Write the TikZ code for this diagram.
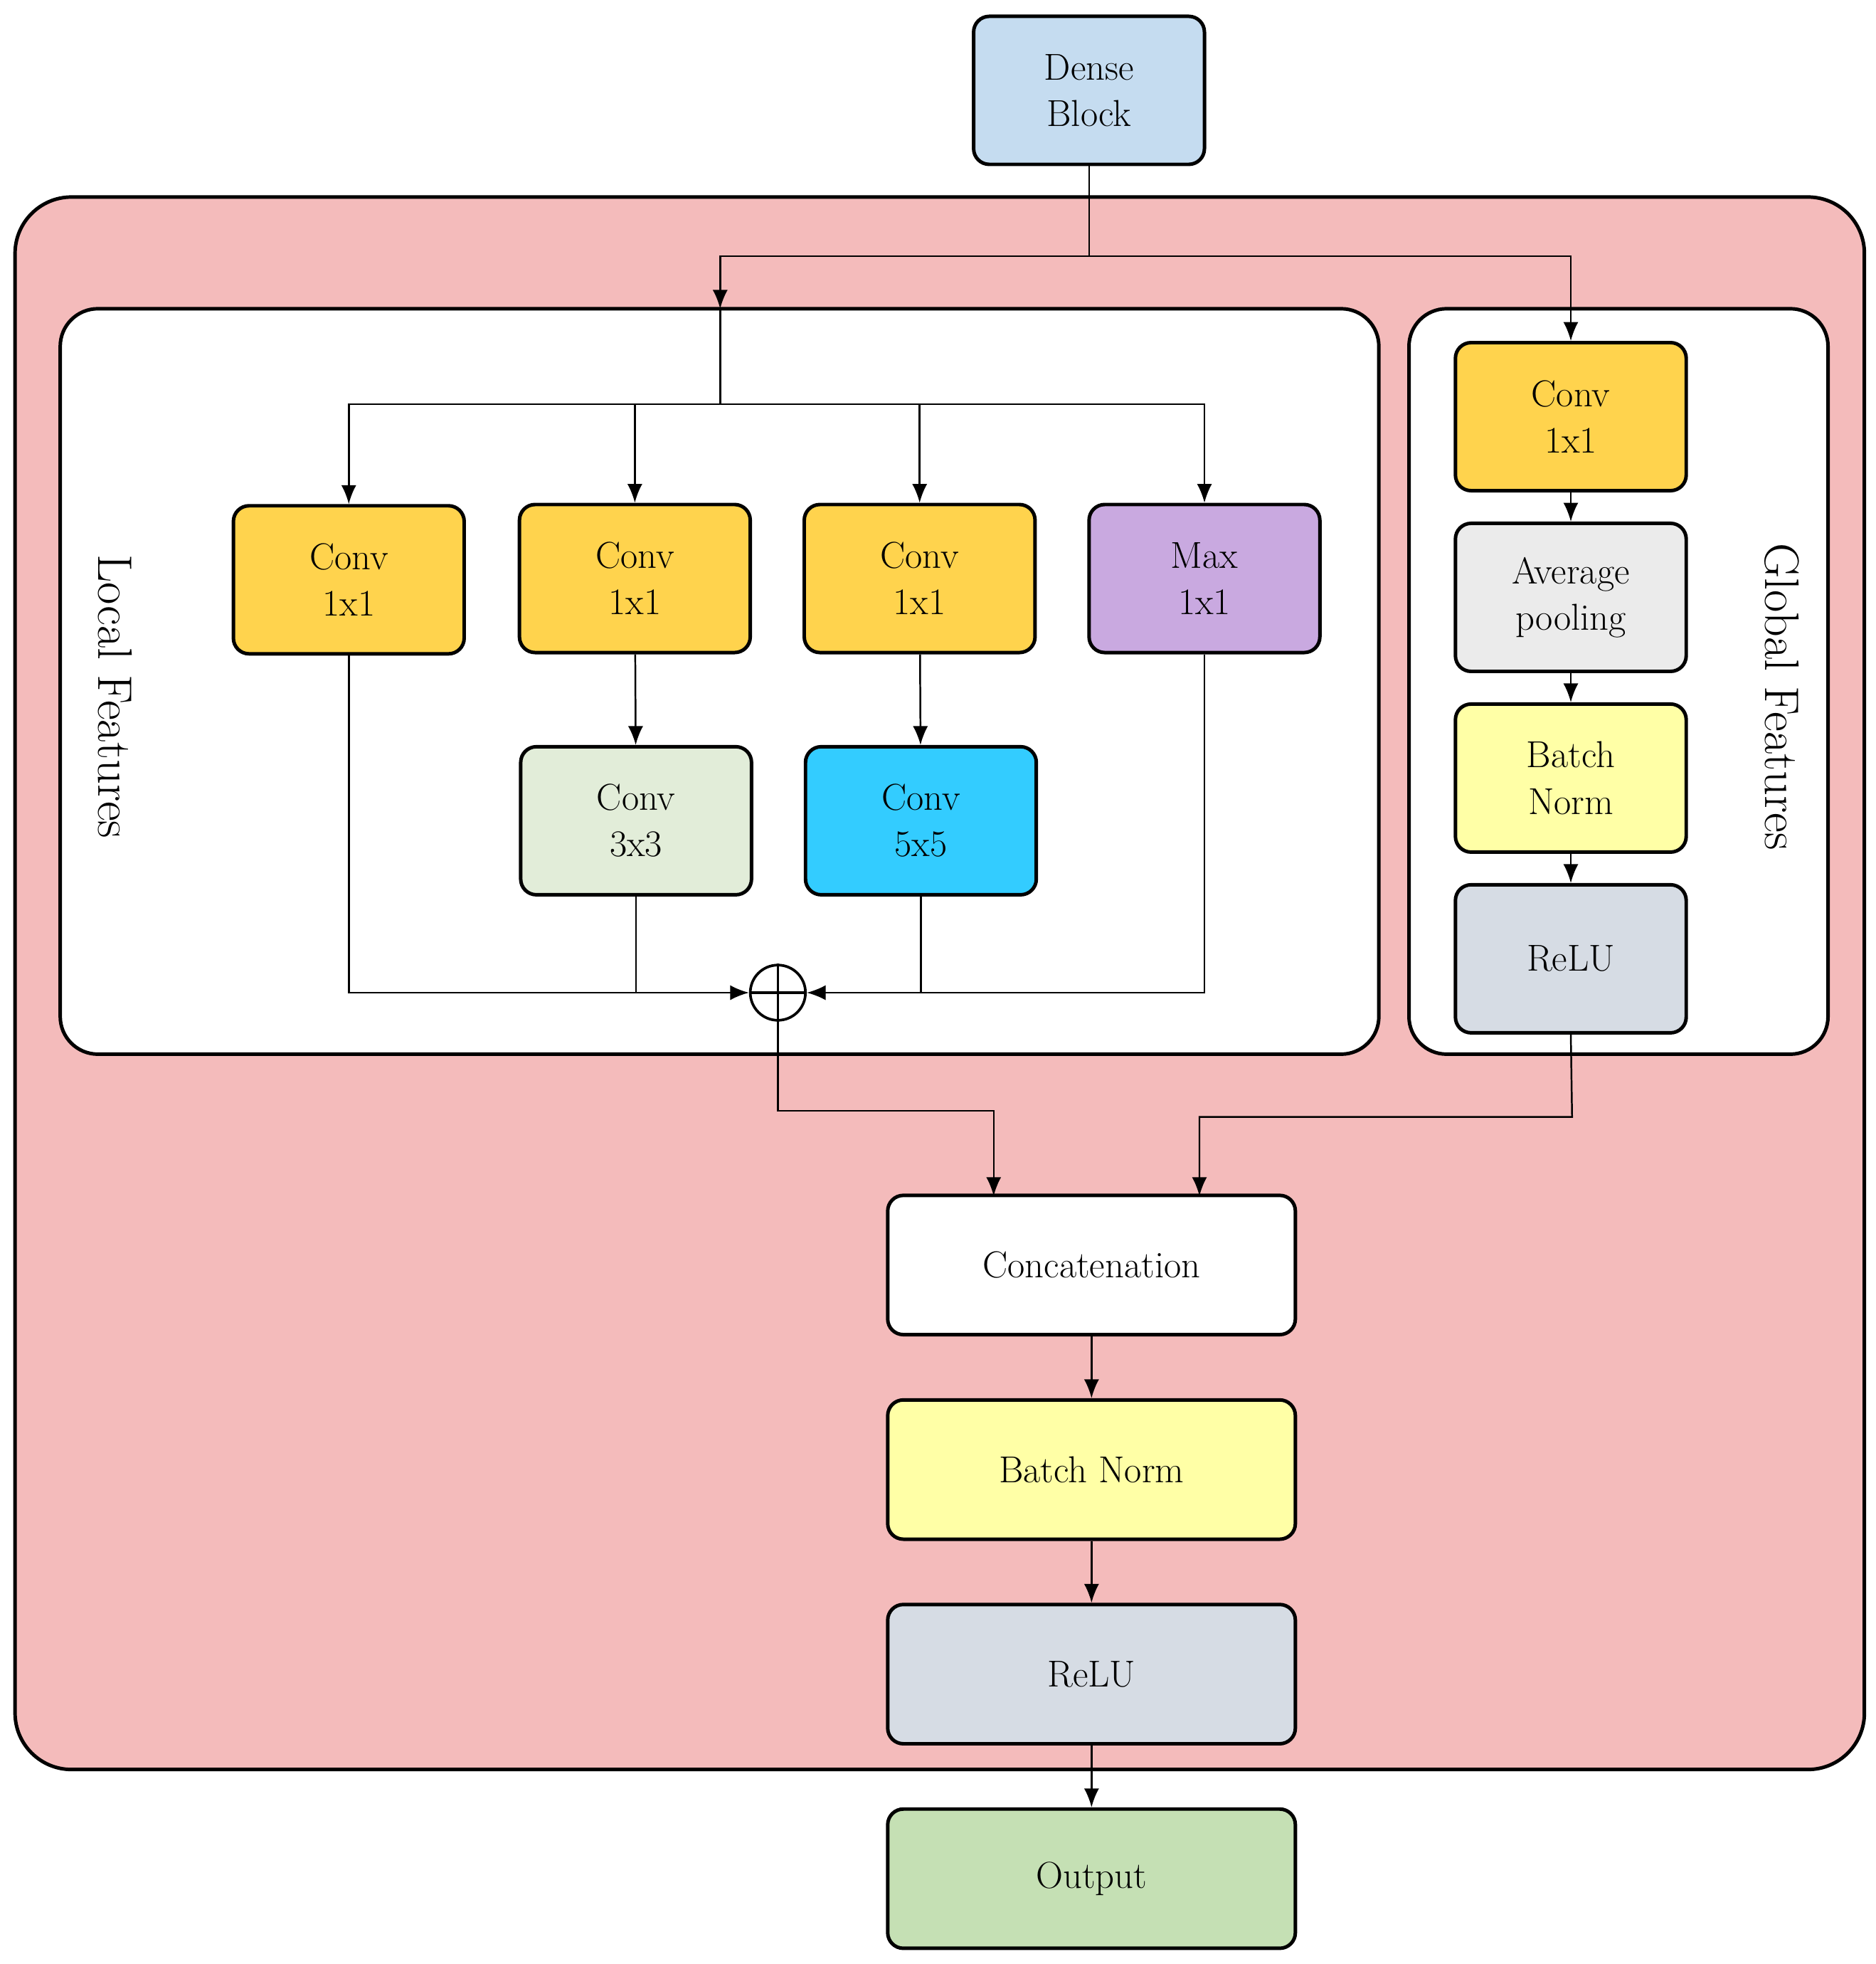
\documentclass[tikz,border=0pt]{standalone}
\usetikzlibrary{arrows.meta,positioning}
\definecolor{pinkbg}{HTML}{F4BBBB}
\definecolor{denseblue}{HTML}{C5DCF0}
\definecolor{convyel}{HTML}{FFD34D}
\definecolor{maxpurp}{HTML}{C9A9E0}
\definecolor{lgreen}{HTML}{E2EDD9}
\definecolor{cyanc}{HTML}{33CCFF}
\definecolor{avggray}{HTML}{EBEBEB}
\definecolor{bnyel}{HTML}{FFFFA6}
\definecolor{relublue}{HTML}{D6DCE4}
\definecolor{outgreen}{HTML}{C5E0B4}
\begin{document}
\begin{tikzpicture}[x=0.02cm,y=-0.02cm,
  every node/.style={font=\fontsize{17}{21}\selectfont},
  block/.style={draw=black,line width=1.6pt,rounded corners=0.25cm,align=center,
    minimum width=3.68cm,minimum height=2.36cm,inner sep=2pt},
  wideblock/.style={block,minimum width=6.5cm,minimum height=2.22cm},
  panel/.style={draw=black,line width=1.6pt,rounded corners=0.6cm},
  link/.style={line width=0.8pt,-{Latex[length=3mm,width=2.4mm]}},
  line/.style={line width=0.8pt}]
\useasboundingbox (0,0) rectangle (1495,1565);
% panels
\draw[panel,fill=pinkbg,rounded corners=0.9cm] (12,157) rectangle (1486,1410);
\draw[panel,fill=white] (48,246) rectangle (1099,840);
\draw[panel,fill=white] (1123,246) rectangle (1457,840);
\node[rotate=-90,font=\fontsize{22}{26}\selectfont] (loclab) at (92,555) {Local Features};
\node[rotate=-90,font=\fontsize{22}{26}\selectfont] (globlab) at (1420,555) {Global Features};

\node[block,fill=denseblue] (dense) at (868,72) {Dense\\Block};

% local branch
\node[block,fill=convyel] (c1) at (278,462) {Conv\\1x1};
\node[block,fill=convyel] (c2) at (506,461) {Conv\\1x1};
\node[block,fill=convyel] (c3) at (733,461) {Conv\\1x1};
\node[block,fill=maxpurp] (mx) at (960,461) {Max\\1x1};
\node[block,fill=lgreen] (c33) at (507,654) {Conv\\3x3};
\node[block,fill=cyanc] (c55) at (734,654) {Conv\\5x5};
\node[circle,draw,line width=1.2pt,minimum size=0.88cm,inner sep=0pt] (sum) at (620,791) {};
\draw[line width=1.2pt] (sum.north) -- (sum.south) (sum.west) -- (sum.east);

% global branch
\node[block,fill=convyel] (g1) at (1252,332) {Conv\\1x1};
\node[block,fill=avggray] (g2) at (1252,476) {Average\\pooling};
\node[block,fill=bnyel] (g3) at (1252,620) {Batch\\Norm};
\node[block,fill=relublue] (g4) at (1252,764) {ReLU};

% merge
\node[wideblock,fill=white] (cat) at (870,1008) {Concatenation};
\node[wideblock,fill=bnyel] (bn) at (870,1171) {Batch Norm};
\node[wideblock,fill=relublue] (relu) at (870,1334) {ReLU};
\node[wideblock,fill=outgreen] (out) at (870,1497) {Output};

\coordinate (split) at (868,204);
\coordinate (lin) at (574,246);
\coordinate (fan) at (574,322);
\draw[line] (dense.south) -- (split);
\draw[link] (split) -| (lin);
\draw[link] (split) -| (g1.north);
\draw[line] (lin) -- (fan);
\draw[link] (fan) -| (c1.north);
\draw[link] (fan) -| (c2.north);
\draw[link] (fan) -| (c3.north);
\draw[link] (fan) -| (mx.north);
\draw[link] (c2) -- (c33);
\draw[link] (c3) -- (c55);
\draw[link] (c1.south) |- (sum.west);
\draw[line] (c33.south) -- (507,791);
\draw[link] (mx.south) |- (sum.east);
\draw[line] (c55.south) -- (734,791);
\draw[link] (g1) -- (g2);
\draw[link] (g2) -- (g3);
\draw[link] (g3) -- (g4);
\draw[link] (sum.south) -- (620,885) -| (792,953);
\draw[link] (g4.south) -- (1253,890) -| (956,953);
\draw[link] (cat) -- (bn);
\draw[link] (bn) -- (relu);
\draw[link] (relu) -- (out);
\end{tikzpicture}
\end{document}
